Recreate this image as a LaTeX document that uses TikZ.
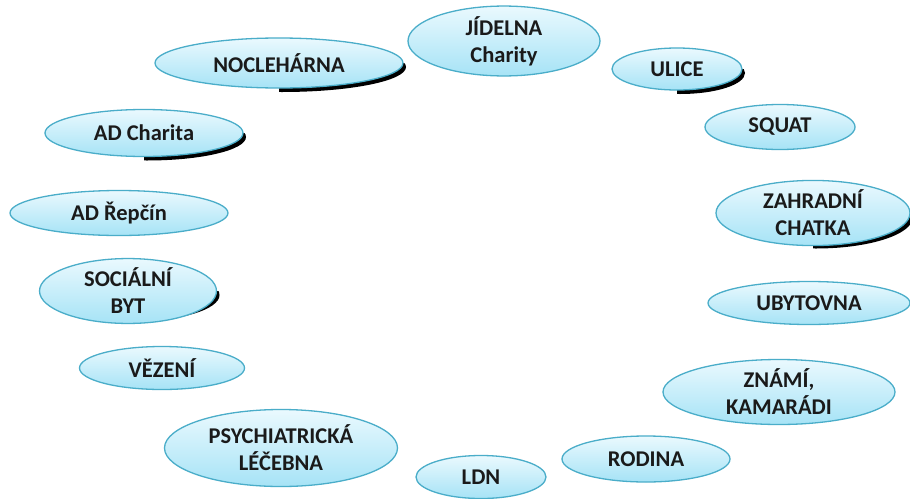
\documentclass[tikz,border=0pt]{standalone}
\usepackage{fontspec}
\setmainfont{Carlito}
\usetikzlibrary{shapes.geometric}
\definecolor{bordc}{HTML}{4AADC9}
\definecolor{topc}{HTML}{EAF9FE}
\definecolor{botc}{HTML}{A6E3F6}
\definecolor{txtc}{HTML}{1A1A1A}
\newcommand\bubshadow[4]{%
  \begin{scope}
    \clip (#1, #2) rectangle (#1+#3, #2+#4);
    \fill[black] (#1+3,#2+4) ellipse ({#3/2} and {#4/2});
  \end{scope}}
\begin{document}
\begin{tikzpicture}[x=1pt,y=-1pt,
  bub/.style={ellipse, draw=bordc, line width=1.3pt, top color=topc, bottom color=botc,
    inner sep=0pt, align=center, text=txtc,
    font=\fontsize{22.5}{27}\selectfont\bfseries}]
\useasboundingbox[fill=white] (0,0) rectangle (910,498);
% shadows
\bubshadow{279}{63}{248}{50}
\bubshadow{677}{69}{130}{42}
\bubshadow{144}{133}{198}{47}
\bubshadow{128}{291}{177}{53}
\bubshadow{813}{213}{194}{63}
% nodes
\node[bub, minimum width=248, minimum height=50] (noc) at (279,63) {NOCLEHÁRNA};
\node[bub, minimum width=192, minimum height=47] (jid) at (504,41) {JÍDELNA\\Charity};
\node[bub, minimum width=130, minimum height=42] (uli) at (677,69) {ULICE};
\node[bub, minimum width=150, minimum height=45] (squ) at (780,127) {SQUAT};
\node[bub, minimum width=194, minimum height=63] (zah) at (813,213) {ZAHRADNÍ\\CHATKA};
\node[bub, minimum width=202, minimum height=43] (uby) at (809,303) {UBYTOVNA};
\node[bub, minimum width=232, minimum height=65] (zna) at (779,392) {ZNÁMÍ,\\KAMARÁDI};
\node[bub, minimum width=168, minimum height=46] (rod) at (646,459) {RODINA};
\node[bub, minimum width=130, minimum height=43] (ldn) at (481,477) {LDN};
\node[bub, minimum width=233, minimum height=77] (psy) at (281,448) {PSYCHIATRICKÁ\\LÉČEBNA};
\node[bub, minimum width=165, minimum height=43] (vez) at (162,368) {VĚZENÍ};
\node[bub, minimum width=177, minimum height=53] (soc) at (128,291) {SOCIÁLNÍ\\BYT};
\node[bub, minimum width=218, minimum height=45] (adr) at (119,213) {AD Řepčín};
\node[bub, minimum width=198, minimum height=47] (adc) at (144,133) {AD Charita};
\end{tikzpicture}
\end{document}
